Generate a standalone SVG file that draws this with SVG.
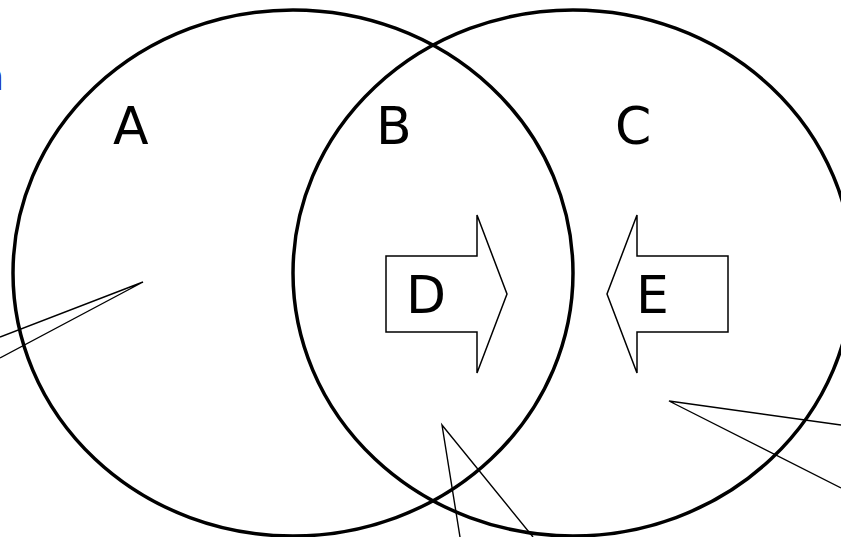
<svg xmlns="http://www.w3.org/2000/svg" width="841" height="537" viewBox="0 0 841 537">
<style>
.circ{fill:none;stroke:#000;stroke-width:3.5}
.arrow{fill:#fff;stroke:#000;stroke-width:1.5;stroke-linejoin:miter}
.call{fill:none;stroke:#000;stroke-width:1.4}
.lbl{font-family:"Comic Sans MS","DejaVu Sans",sans-serif;font-size:52px;fill:#000}
</style>
<rect width="841" height="537" fill="#fff"/>
<g id="connectors">
<polyline class="call" points="0,337 143,282 0,358"/>
<polyline class="call" points="460,537 442,425 533,537"/>
<polyline class="call" points="841,425 669,401 841,488"/>
</g>
<g id="circle-left"><ellipse class="circ" cx="293" cy="273" rx="280" ry="263"/></g>
<g id="circle-right"><ellipse class="circ" cx="573" cy="273" rx="280" ry="263"/></g>
<g id="label-A"><text class="lbl" x="113" y="144">A</text></g>
<g id="label-B"><text class="lbl" x="376" y="144">B</text></g>
<g id="label-C"><text class="lbl" x="615" y="144">C</text></g>
<g id="arrow-D">
<polygon class="arrow" points="386,256 477,256 477,215 507,294 477,373 477,332 386,332"/>
<text class="lbl" x="406" y="313">D</text>
</g>
<g id="arrow-E">
<polygon class="arrow" points="728,256 637,256 637,215 607,294 637,373 637,332 728,332"/>
<text class="lbl" x="636" y="313">E</text>
</g>
<g id="stray"><text x="-20" y="90" font-family="DejaVu Sans,sans-serif" font-size="38" fill="#2222aa">n</text></g>
</svg>
